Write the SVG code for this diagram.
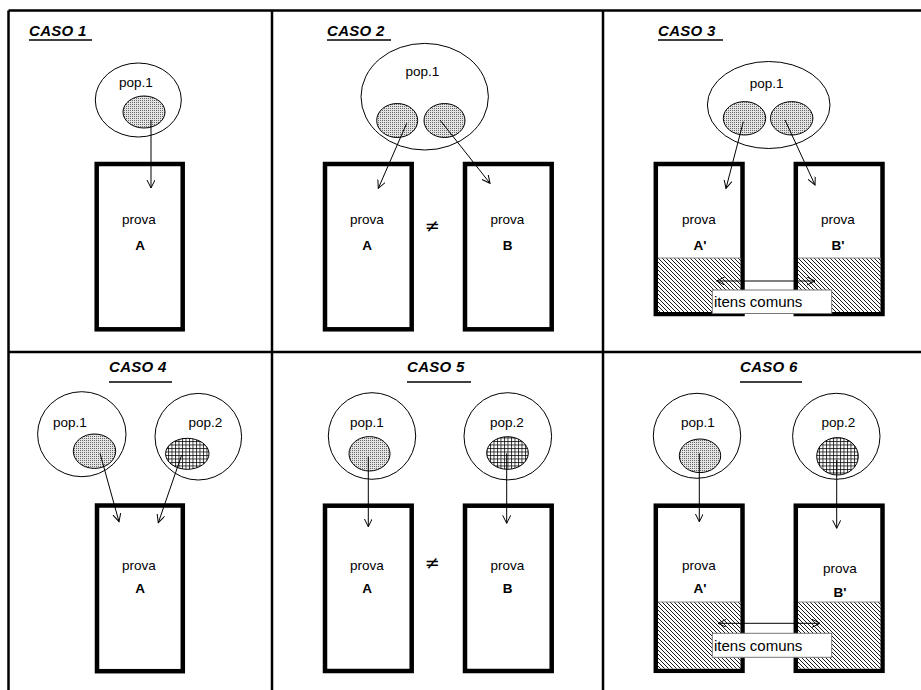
<svg xmlns="http://www.w3.org/2000/svg" width="921" height="690" viewBox="0 0 921 690">
<style>
.frame{stroke:#000;stroke-width:2.5;fill:none}
.title{font-family:"Liberation Sans",Arial,sans-serif;font-size:15px;font-weight:bold;font-style:italic;fill:#000;letter-spacing:0.3px}
.ul{stroke:#000;stroke-width:1.6}
.pop{fill:#fff;stroke:#000;stroke-width:1}
.lbl{font-family:"Liberation Sans",Arial,sans-serif;font-size:13.5px;fill:#000;text-anchor:middle}
.big{font-family:"Liberation Sans",Arial,sans-serif;font-size:13.5px;font-weight:bold;fill:#000;text-anchor:middle}
.dot{fill:url(#dots);stroke:#000;stroke-width:1}
.grid{fill:url(#grid);stroke:#000;stroke-width:1}
.test{fill:#fff;stroke:#000;stroke-width:4.5}
.hatch{fill:url(#hatch);stroke:none}
.sep{stroke:#888;stroke-width:1}
.box{fill:#fff;stroke:#777;stroke-width:1}
.item{font-family:"Liberation Sans",Arial,sans-serif;font-size:15px;fill:#000}
.conn{stroke:#000;stroke-width:1;fill:none;marker-end:url(#arr)}
.dbl{stroke:#000;stroke-width:1;fill:none;marker-end:url(#arr);marker-start:url(#arr)}
.neq{font-family:"DejaVu Sans",sans-serif;font-size:18px;fill:#000;text-anchor:middle}
</style>
<defs>
<pattern id="dots" width="2" height="2" patternUnits="userSpaceOnUse">
<rect width="2" height="2" fill="#e4e4e4"/>
<rect width="1" height="1" fill="#666"/>
</pattern>
<pattern id="grid" width="3.5" height="3.5" patternUnits="userSpaceOnUse">
<rect width="3.5" height="3.5" fill="#fff"/>
<path d="M0,0.5H3.5M0.5,0V3.5" stroke="#000" stroke-width="0.75"/>
</pattern>
<pattern id="hatch" width="4" height="4" patternUnits="userSpaceOnUse">
<rect width="4" height="4" fill="#fff"/>
<path d="M-1,-1L5,5M-1,3L1,5M3,-1L5,1" stroke="#000" stroke-width="0.9"/>
</pattern>
<marker id="arr" markerUnits="userSpaceOnUse" markerWidth="12" markerHeight="12" refX="8" refY="4" orient="auto-start-reverse">
<path d="M0,0L8,4L0,8" fill="none" stroke="#000" stroke-width="1"/>
</marker>
</defs>
<rect width="921" height="690" fill="#fff"/>
<g id="grid-frame">
<path class="frame" d="M8.5,10.5H921M8.5,10.5V690M272,10.5V690M603,10.5V690M8.5,352H921"/>
</g>

<g id="case1">
<text class="title" x="29" y="36">CASO 1</text>
<line class="ul" x1="29" y1="40" x2="92" y2="40"/>
<g id="c1-pop1">
<ellipse class="pop" cx="138.3" cy="100" rx="43" ry="37"/>
<text class="lbl" x="136" y="87">pop.1</text>
<ellipse class="dot" cx="144" cy="112" rx="21" ry="16"/>
</g>
<g id="c1-provaA">
<rect class="test" x="96.7" y="164" width="86" height="165.3"/>
<text class="lbl" x="139" y="224">prova</text>
<text class="big" x="140" y="250">A</text>
</g>
</g>

<g id="case2">
<text class="title" x="327" y="36">CASO 2</text>
<line class="ul" x1="327" y1="40" x2="391" y2="40"/>
<g id="c2-pop1">
<ellipse class="pop" cx="424.7" cy="96.7" rx="63.7" ry="53.3"/>
<text class="lbl" x="422.5" y="76">pop.1</text>
<ellipse class="dot" cx="397.2" cy="120.5" rx="20.5" ry="17"/>
<ellipse class="dot" cx="444.5" cy="120.5" rx="20.5" ry="17"/>
</g>
<g id="c2-provaA">
<rect class="test" x="325" y="164" width="86.7" height="165.3"/>
<text class="lbl" x="367" y="224">prova</text>
<text class="big" x="367" y="250">A</text>
</g>
<text class="neq" x="432.3" y="232">≠</text>
<g id="c2-provaB">
<rect class="test" x="465" y="164" width="86.7" height="165.3"/>
<text class="lbl" x="507.5" y="224">prova</text>
<text class="big" x="507.5" y="250">B</text>
</g>
</g>

<g id="case3">
<text class="title" x="658" y="36">CASO 3</text>
<line class="ul" x1="658" y1="40" x2="723" y2="40"/>
<g id="c3-pop1">
<ellipse class="pop" cx="768.7" cy="105" rx="61.3" ry="43.5"/>
<text class="lbl" x="766.7" y="88">pop.1</text>
<ellipse class="dot" cx="744.5" cy="118.3" rx="21.2" ry="16.7"/>
<ellipse class="dot" cx="791.7" cy="118.3" rx="21.2" ry="16.7"/>
</g>
<g id="c3-provaA">
<rect class="test" x="655.8" y="164" width="86.7" height="150"/>
<rect class="hatch" x="658" y="258" width="82.3" height="54"/>
<line class="sep" x1="658" y1="258" x2="740.3" y2="258"/>
<text class="lbl" x="698.8" y="224">prova</text>
<text class="big" x="700" y="250">A'</text>
</g>
<g id="c3-provaB">
<rect class="test" x="795.8" y="164" width="86.7" height="150"/>
<rect class="hatch" x="798" y="258" width="82.3" height="54"/>
<line class="sep" x1="798" y1="258" x2="880.3" y2="258"/>
<text class="lbl" x="837.8" y="224">prova</text>
<text class="big" x="838" y="250">B'</text>
</g>
<g id="c3-itens">
<rect class="box" x="712.3" y="290" width="119.4" height="23.5"/>
<text class="item" x="714" y="307">itens comuns</text>
</g>
</g>

<g id="case4">
<text class="title" x="109" y="372">CASO 4</text>
<line class="ul" x1="109" y1="382" x2="172" y2="382"/>
<g id="c4-pop1">
<ellipse class="pop" cx="81.8" cy="434.2" rx="44.2" ry="42.5"/>
<text class="lbl" x="70" y="427">pop.1</text>
<ellipse class="dot" cx="94.5" cy="451.2" rx="21.2" ry="17.2"/>
</g>
<g id="c4-pop2">
<ellipse class="pop" cx="198.3" cy="436.7" rx="43.3" ry="43.3"/>
<text class="lbl" x="205.3" y="427">pop.2</text>
<ellipse class="grid" cx="187.3" cy="453.8" rx="21.7" ry="15.5"/>
</g>
<g id="c4-provaA">
<rect class="test" x="97" y="505.5" width="85.8" height="165.7"/>
<text class="lbl" x="139" y="570">prova</text>
<text class="big" x="140" y="593">A</text>
</g>
</g>

<g id="case5">
<text class="title" x="407" y="372">CASO 5</text>
<line class="ul" x1="407" y1="382" x2="471" y2="382"/>
<g id="c5-pop1">
<ellipse class="pop" cx="372" cy="436" rx="43.7" ry="43.3"/>
<text class="lbl" x="366.8" y="427">pop.1</text>
<ellipse class="dot" cx="369.5" cy="453.8" rx="20.5" ry="17.2"/>
</g>
<g id="c5-pop2">
<ellipse class="pop" cx="507.8" cy="436.3" rx="43.8" ry="43.6"/>
<text class="lbl" x="507" y="427">pop.2</text>
<ellipse class="grid" cx="507.5" cy="453" rx="20.8" ry="16.3"/>
</g>
<g id="c5-provaA">
<rect class="test" x="325" y="505.7" width="86.7" height="165.3"/>
<text class="lbl" x="367" y="570">prova</text>
<text class="big" x="367" y="593">A</text>
</g>
<text class="neq" x="432.3" y="569">≠</text>
<g id="c5-provaB">
<rect class="test" x="465" y="505.7" width="86.7" height="165.3"/>
<text class="lbl" x="507.5" y="570">prova</text>
<text class="big" x="507.5" y="593">B</text>
</g>
</g>

<g id="case6">
<text class="title" x="740" y="372">CASO 6</text>
<line class="ul" x1="740" y1="382" x2="802" y2="382"/>
<g id="c6-pop1">
<ellipse class="pop" cx="697" cy="435.8" rx="43.7" ry="42.5"/>
<text class="lbl" x="698" y="427">pop.1</text>
<ellipse class="dot" cx="700" cy="455.8" rx="20.7" ry="16.8"/>
</g>
<g id="c6-pop2">
<ellipse class="pop" cx="836.3" cy="436.3" rx="43.7" ry="43"/>
<text class="lbl" x="838.3" y="427">pop.2</text>
<ellipse class="grid" cx="837.5" cy="456.3" rx="20.8" ry="18.7"/>
</g>
<g id="c6-provaA">
<rect class="test" x="655.8" y="505.7" width="86.7" height="165.1"/>
<rect class="hatch" x="658" y="602" width="82.3" height="66.5"/>
<line class="sep" x1="658" y1="602" x2="740.3" y2="602"/>
<text class="lbl" x="698.8" y="570">prova</text>
<text class="big" x="700" y="593">A'</text>
</g>
<g id="c6-provaB">
<rect class="test" x="795.8" y="505.7" width="86.7" height="165.1"/>
<rect class="hatch" x="798" y="602" width="82.3" height="66.5"/>
<line class="sep" x1="798" y1="602" x2="880.3" y2="602"/>
<text class="lbl" x="840" y="573">prova</text>
<text class="big" x="840" y="597">B'</text>
</g>
<g id="c6-itens">
<rect class="box" x="712.3" y="633.3" width="119.4" height="24"/>
<text class="item" x="714" y="651">itens comuns</text>
</g>
</g>

<g id="connectors">
<line class="conn" x1="151" y1="120" x2="151" y2="188"/>
<line class="conn" x1="406.7" y1="123.3" x2="378.3" y2="188.3"/>
<line class="conn" x1="440" y1="120" x2="490" y2="183.3"/>
<line class="conn" x1="743.3" y1="121.7" x2="726" y2="188.3"/>
<line class="conn" x1="785" y1="120" x2="815" y2="185"/>
<line class="dbl" x1="716.7" y1="281" x2="815" y2="281"/>
<line class="conn" x1="100" y1="453.3" x2="119" y2="521.7"/>
<line class="conn" x1="181.7" y1="455" x2="158.3" y2="522.7"/>
<line class="conn" x1="368.3" y1="456.7" x2="368.3" y2="526.7"/>
<line class="conn" x1="506.7" y1="453.3" x2="506.7" y2="523.3"/>
<line class="conn" x1="699.3" y1="453.3" x2="699.3" y2="521.7"/>
<line class="conn" x1="836.7" y1="460" x2="836.7" y2="528.3"/>
<line class="dbl" x1="718.3" y1="623.3" x2="820" y2="623.3"/>
</g>
</svg>
